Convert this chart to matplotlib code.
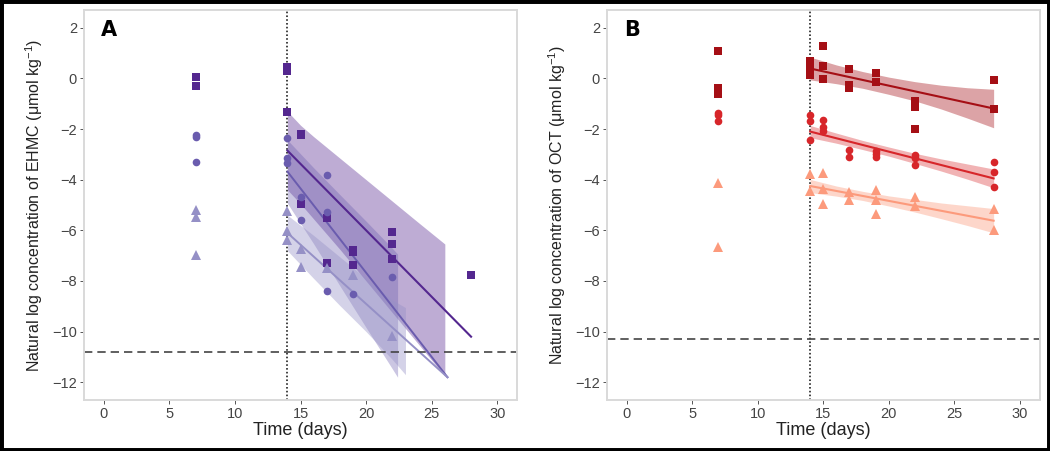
"""
EHMC / OCT depuration plot: log concentration vs time, two panels
"""
import matplotlib
matplotlib.use("Agg")
import matplotlib.pyplot as plt
from matplotlib.patches import Rectangle

plt.rcParams['font.family'] = ['Liberation Sans', 'DejaVu Sans']
plt.rcParams['mathtext.fontset'] = 'custom'
plt.rcParams['mathtext.rm'] = 'Liberation Sans'
plt.rcParams['mathtext.it'] = 'Liberation Sans:italic'
plt.rcParams['mathtext.default'] = 'regular'

# ---- panel A : EHMC ----
a_sq_x = [7, 7, 14, 14, 14, 14, 15, 15, 15, 17, 17, 19, 19, 19, 22, 22, 22, 28]
a_sq_y = [0.05, -0.29, 0.45, 0.37, 0.28, -1.34, -2.18, -2.24, -4.98, -5.5, -7.3,
          -6.76, -6.85, -7.35, -6.08, -6.54, -7.15, -7.77]
a_ci_x = [7, 7, 7, 14, 14, 14, 15, 15, 17, 17, 17, 19, 22]
a_ci_y = [-2.24, -2.33, -3.29, -2.37, -3.16, -3.33, -4.69, -5.6, -3.83, -5.29,
          -8.4, -8.53, -7.85]
a_tr_x = [7, 7, 7, 14, 14, 14, 15, 15, 17, 19, 22]
a_tr_y = [-5.21, -5.49, -6.97, -5.25, -6.01, -6.39, -6.73, -7.44, -7.48, -7.78, -10.17]

# fitted lines (end points) and confidence ribbons
a_sq_fit_x = [14, 28]
a_sq_fit_y = [-2.85, -10.2]
a_sq_rib_x = [14, 15, 16, 18, 20, 22, 24, 26]
a_sq_rib_lo = [-4.4, -4.95, -5.55, -6.75, -8.0, -9.25, -10.5, -11.76]
a_sq_rib_hi = [-1.3, -1.85, -2.3, -3.15, -4.0, -4.85, -5.7, -6.54]

a_ci_fit_x = [14, 26.2]
a_ci_fit_y = [-3.68, -11.8]
a_ci_rib_x = [14, 16, 18, 20, 22, 22.4]
a_ci_rib_lo = [-4.93, -6.53, -8.19, -9.84, -11.47, -11.8]
a_ci_rib_hi = [-2.43, -3.53, -4.59, -5.64, -6.71, -6.94]

a_tr_fit_x = [14, 26.2]
a_tr_fit_y = [-6.1, -11.8]
a_tr_rib_x = [14, 16, 18, 20, 22, 23]
a_tr_rib_lo = [-6.8, -7.9, -8.97, -10.0, -11.1, -11.7]
a_tr_rib_hi = [-5.4, -6.2, -7.05, -7.9, -8.75, -9.05]

a_lod = -10.8

# ---- panel B : OCT ----
b_sq_x = [7, 7, 7, 14, 14, 14, 14, 15, 15, 15, 17, 17, 17, 19, 19, 22, 22, 22, 22, 28, 28]
b_sq_y = [1.08, -0.37, -0.6, 0.7, 0.58, 0.45, 0.12, 1.26, 0.48, -0.01, 0.36, -0.27,
          -0.37, 0.21, -0.14, -0.9, -1.06, -1.12, -2.01, -0.07, -1.21]
b_ci_x = [7, 7, 7, 14, 14, 14, 15, 15, 15, 17, 17, 19, 19, 19, 22, 22, 22, 28, 28, 28]
b_ci_y = [-1.38, -1.46, -1.68, -1.46, -1.68, -2.44, -1.65, -1.91, -2.06, -2.83, -3.09,
          -2.87, -2.98, -3.09, -3.02, -3.15, -3.41, -3.31, -3.7, -4.28]
b_tr_x = [7, 7, 14, 14, 15, 15, 15, 17, 17, 19, 19, 19, 22, 22, 28, 28]
b_tr_y = [-4.15, -6.67, -3.79, -4.44, -3.74, -4.36, -4.95, -4.49, -4.79, -4.4, -4.79,
          -5.34, -4.7, -5.05, -5.14, -6.0]

b_rib_x = [14, 16, 18, 20, 22, 24, 26, 28]
b_sq_fit_x = [14, 28]
b_sq_fit_y = [0.39, -1.19]
b_sq_rib_lo = [-0.06, -0.21, -0.39, -0.63, -0.89, -1.21, -1.57, -1.95]
b_sq_rib_hi = [0.84, 0.53, 0.27, 0.05, -0.13, -0.27, -0.37, -0.43]

b_ci_fit_x = [14, 28]
b_ci_fit_y = [-2.1, -3.95]
b_ci_rib_lo = [-2.34, -2.56, -2.81, -3.07, -3.36, -3.66, -3.98, -4.32]
b_ci_rib_hi = [-1.86, -2.16, -2.45, -2.71, -2.96, -3.18, -3.38, -3.58]

b_tr_fit_x = [14, 28]
b_tr_fit_y = [-4.25, -5.62]
b_tr_rib_lo = [-4.51, -4.65, -4.82, -5.04, -5.28, -5.54, -5.81, -6.1]
b_tr_rib_hi = [-3.99, -4.25, -4.46, -4.64, -4.78, -4.92, -5.03, -5.14]

b_lod = -10.3

dose_day = 14
xticks = [0, 5, 10, 15, 20, 25, 30]
yticks = [2, 0, -2, -4, -6, -8, -10, -12]

purples = ['#54278f', '#6a5cae', '#9590c6']
reds = ['#a50f15', '#d7262a', '#fc9a7c']


def style_axes(ax, letter, ylabel):
    ax.set_xlim(-1.5, 31.5)
    ax.set_ylim(-12.7, 2.7)
    ax.set_xticks(xticks)
    ax.set_yticks(yticks)
    for s in ax.spines.values():
        s.set_color('#d9d9d9')
        s.set_linewidth(1.4)
    ax.tick_params(direction='out', length=3, width=0.7, color='#555555',
                   labelcolor='#444444', labelsize=10.5, pad=2)
    ax.set_xlabel('Time (days)', fontsize=13, color='#222222', labelpad=1)
    ax.set_ylabel(ylabel, fontsize=11.5, color='#222222', labelpad=5)
    ax.axvline(dose_day, color='#333333', lw=1.3, ls=(0, (0.9, 1.2)), zorder=1)
    ax.text(0.04, 0.975, letter, transform=ax.transAxes, fontsize=15,
            fontweight='heavy', family='DejaVu Sans', va='top', ha='left')


fig = plt.figure(figsize=(10.5, 4.51), dpi=100)
axA = fig.add_axes([84 / 1050, 51 / 451, 433 / 1050, 390 / 451])
axB = fig.add_axes([607 / 1050, 51 / 451, 432.5 / 1050, 390 / 451])

# panel A
axA.fill_between(a_sq_rib_x, a_sq_rib_lo, a_sq_rib_hi, color=purples[0], alpha=0.38, lw=0)
axA.fill_between(a_ci_rib_x, a_ci_rib_lo, a_ci_rib_hi, color=purples[1], alpha=0.35, lw=0)
axA.fill_between(a_tr_rib_x, a_tr_rib_lo, a_tr_rib_hi, color=purples[2], alpha=0.4, lw=0)
axA.plot(a_sq_fit_x, a_sq_fit_y, color=purples[0], lw=1.5)
axA.plot(a_ci_fit_x, a_ci_fit_y, color=purples[1], lw=1.4)
axA.plot(a_tr_fit_x, a_tr_fit_y, color=purples[2], lw=1.4)
axA.plot(a_sq_x, a_sq_y, 's', color=purples[0], ms=5.5, mew=0)
axA.plot(a_ci_x, a_ci_y, 'o', color=purples[1], ms=5.5, mew=0)
axA.plot(a_tr_x, a_tr_y, '^', color=purples[2], ms=6.5, mew=0)
axA.axhline(a_lod, color='#444444', lw=1.2, ls=(0, (5, 3)))
style_axes(axA, 'A', 'Natural log concentration of EHMC (μmol kg$^{-1}$)')

# panel B
axB.fill_between(b_rib_x, b_sq_rib_lo, b_sq_rib_hi, color=reds[0], alpha=0.38, lw=0)
axB.fill_between(b_rib_x, b_ci_rib_lo, b_ci_rib_hi, color=reds[1], alpha=0.35, lw=0)
axB.fill_between(b_rib_x, b_tr_rib_lo, b_tr_rib_hi, color=reds[2], alpha=0.4, lw=0)
axB.plot(b_sq_fit_x, b_sq_fit_y, color=reds[0], lw=1.5)
axB.plot(b_ci_fit_x, b_ci_fit_y, color=reds[1], lw=1.5)
axB.plot(b_tr_fit_x, b_tr_fit_y, color=reds[2], lw=1.5)
axB.plot(b_sq_x, b_sq_y, 's', color=reds[0], ms=5.5, mew=0)
axB.plot(b_ci_x, b_ci_y, 'o', color=reds[1], ms=5.5, mew=0)
axB.plot(b_tr_x, b_tr_y, '^', color=reds[2], ms=6.5, mew=0)
axB.axhline(b_lod, color='#444444', lw=1.2, ls=(0, (5, 3)))
style_axes(axB, 'B', 'Natural log concentration of OCT (μmol kg$^{-1}$)')

# black frame round the whole figure
fig.patches.append(Rectangle((0, 0), 1, 1, transform=fig.transFigure, fill=False,
                             ec='black', lw=5))

fig.savefig('out.png', dpi=100)
